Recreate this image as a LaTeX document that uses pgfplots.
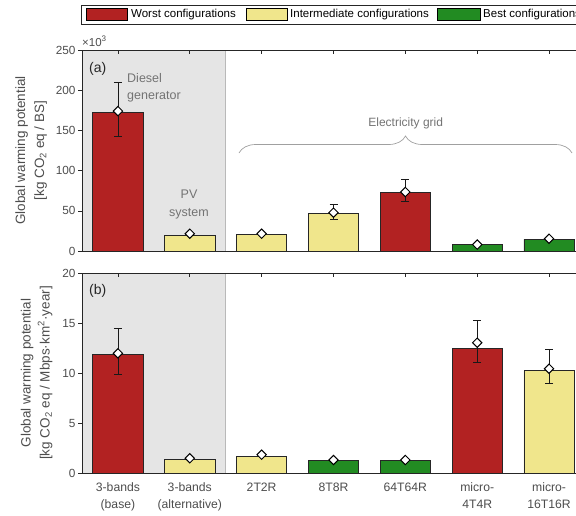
\documentclass[border=0pt]{standalone}
\usepackage{fontspec}
\setmainfont{Liberation Sans}
\usepackage{pgfplots}
\pgfplotsset{compat=1.18}
\usetikzlibrary{decorations.pathreplacing}

\definecolor{worst}{RGB}{178,34,34}
\definecolor{inter}{RGB}{240,230,140}
\definecolor{best}{RGB}{34,139,34}
\definecolor{shadegray}{RGB}{229,229,229}
\definecolor{shadeline}{RGB}{185,185,185}
\definecolor{txt}{RGB}{77,77,77}
\definecolor{axcol}{RGB}{38,38,38}
\definecolor{annot}{RGB}{115,115,115}
\definecolor{bracecol}{RGB}{160,160,160}

\pgfplotsset{
  panel/.style={
    scale only axis,
    width=503pt,
    xmin=0.5, xmax=7.5,
    xtick={1,...,7},
    axis on top,
    tick align=inside,
    xtick pos=upper, xticklabel pos=lower,
    ytick pos=left,
    major tick length=4pt,
    axis line style={axcol, line width=0.6pt},
    every tick/.style={axcol, line width=0.6pt},
    ytick style={xshift=-4pt},
    /pgf/number format/assume math mode=true,
    yticklabel style={font=\fontsize{11.8}{13}\selectfont, text=txt, xshift=-3pt},
    xticklabel style={font=\fontsize{12.2}{17}\selectfont, text=txt, align=center, yshift=-6pt},
    every axis y label/.style={rotate=90, anchor=center, align=center,
      font=\fontsize{13.5}{19}\selectfont, text=txt},
  },
  barstyle/.style={ybar, bar width=0.7, bar shift=0pt, draw=black!85, line width=0.6pt},
  errstyle/.style={only marks, mark=none, forget plot,
    error bars/.cd, y dir=both, y explicit,
    error bar style={black!90, line width=0.8pt},
    error mark options={rotate=90, mark size=4pt, black!90, line width=0.8pt}},
  markstyle/.style={only marks, mark=square*, mark size=3.3pt,
    mark options={rotate=45, fill=white, draw=black, line width=1pt}},
}

\begin{document}
\begin{tikzpicture}
% ---------------- panel (a) ----------------
\begin{axis}[panel, at={(82pt,-251pt)}, anchor=south west, height=201pt,
  ymin=0, ymax=250, ytick={0,50,...,250}, xticklabels={},
  ylabel={Global warming potential\\{}[kg CO\textsubscript{2} eq / BS]},
  ylabel style={at={(axis description cs:-0.101,0.5)}}]
  \fill[shadegray] (axis cs:0.5,0) rectangle (axis cs:2.5,250);
  \draw[shadeline, line width=1.5pt] (axis cs:2.5,0) -- (axis cs:2.5,250);
  \addplot[barstyle, fill=worst] coordinates {(1,172.5) (5,73)};
  \addplot[barstyle, fill=inter] coordinates {(2,19.5) (3,21) (4,46.4)};
  \addplot[barstyle, fill=best] coordinates {(6,7.9) (7,14.5)};
  \addplot[errstyle] table[x=x, y=y, y error plus=ep, y error minus=em] {
x y ep em
1 174 35.4 31.0
4 47.7 10.8 7.9
5 73.4 15.6 12.1
};
  \addplot[markstyle] coordinates {(1,174) (2,21.5) (3,21.5) (4,47.7) (5,73.4) (6,8) (7,15.3)};
\end{axis}
% ---------------- panel (b) ----------------
\begin{axis}[panel, at={(82pt,-473pt)}, anchor=south west, height=200pt,
  ymin=0, ymax=20, ytick={0,5,...,20},
  xticklabels={{3-bands\\(base)},{3-bands\\(alternative)},2T2R,8T8R,64T64R,{micro-\\4T4R},{micro-\\16T16R}},
  ylabel={Global warming potential\\{}[kg CO\textsubscript{2} eq / Mbps·km\textsuperscript{2}·year]},
  ylabel style={at={(axis description cs:-0.090,0.5)}}]
  \fill[shadegray] (axis cs:0.5,0) rectangle (axis cs:2.5,20);
  \draw[shadeline, line width=1.5pt] (axis cs:2.5,0) -- (axis cs:2.5,20);
  \addplot[barstyle, fill=worst] coordinates {(1,11.83) (6,12.47)};
  \addplot[barstyle, fill=inter] coordinates {(2,1.37) (3,1.67) (7,10.23)};
  \addplot[barstyle, fill=best] coordinates {(4,1.23) (5,1.23)};
  \addplot[errstyle] table[x=x, y=y, y error plus=ep, y error minus=em] {
x y ep em
1 11.97 2.53 2.10
6 13.03 2.20 1.96
7 10.43 1.94 1.50
};
  \addplot[markstyle] coordinates {(1,11.97) (2,1.47) (3,1.83) (4,1.3) (5,1.3) (6,13.03) (7,10.43)};
\end{axis}
% ---------------- annotations ----------------
\node[anchor=base west, text=txt, font=\fontsize{11.5}{13}\selectfont, inner sep=0pt] at (82pt,-46pt) {×10\textsuperscript{3}};
\node[anchor=west, font=\fontsize{14}{16}\selectfont, text=black!85, inner sep=0pt] at (89pt,-69pt) {(a)};
\node[anchor=west, font=\fontsize{14}{16}\selectfont, text=black!85, inner sep=0pt] at (89pt,-291pt) {(b)};
\node[anchor=west, align=left, font=\fontsize{12.5}{17}\selectfont, text=annot, inner sep=0pt] at (127pt,-87.5pt) {Diesel\\generator};
\node[anchor=center, align=center, font=\fontsize{12.5}{17.5}\selectfont, text=annot, inner sep=0pt] at (189pt,-204.5pt) {PV\\system};
\node[anchor=center, font=\fontsize{12}{14}\selectfont, text=annot, inner sep=0pt] at (405.7pt,-123.3pt) {Electricity grid};
\draw[bracecol, line width=0.7pt, decorate, decoration={brace, amplitude=17pt}] (239pt,-153pt) -- (572pt,-153pt);
% ---------------- legend ----------------
\draw[axcol, fill=white, line width=0.6pt] (81.7pt,-5pt) rectangle (620pt,-24pt);
\draw[black, fill=worst, line width=0.5pt] (86pt,-8.3pt) rectangle (127pt,-20.7pt);
\node[anchor=west, inner sep=0pt, font=\fontsize{11.5}{13}\selectfont] at (131pt,-14.5pt) {Worst configurations};
\draw[black, fill=inter, line width=0.5pt] (246pt,-8.3pt) rectangle (287pt,-20.7pt);
\node[anchor=west, inner sep=0pt, font=\fontsize{11.5}{13}\selectfont] at (290pt,-14.5pt) {Intermediate configurations};
\draw[black, fill=best, line width=0.5pt] (437pt,-8.3pt) rectangle (480pt,-20.7pt);
\node[anchor=west, inner sep=0pt, font=\fontsize{11.5}{13}\selectfont] at (483pt,-14.5pt) {Best configurations};
\pgfresetboundingbox
\useasboundingbox (0pt,0pt) rectangle (576pt,-515pt);
\end{tikzpicture}
\end{document}
